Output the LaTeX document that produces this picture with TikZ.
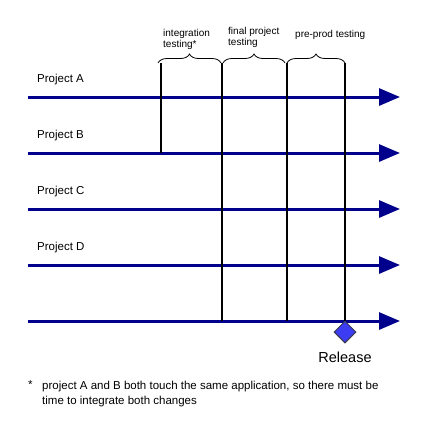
\documentclass[tikz,border=0pt]{standalone}
\usepackage{fontspec}
\setmainfont{Liberation Sans}
\usetikzlibrary{arrows.meta,positioning,calc,shapes.geometric,decorations.pathreplacing}
\definecolor{navy}{HTML}{00008C}
\definecolor{relblue}{HTML}{3C3CF2}
\definecolor{relrim}{HTML}{3A3A4C}
\tikzset{
    every picture/.style={line join=miter},
    track/.style={draw=navy,line width=3pt,-{Triangle[length=21pt,width=17pt]}},
    gate/.style={draw=black,line width=2pt},
    phasebrace/.style={draw=black,line width=0.8pt,decorate,
      decoration={brace,amplitude=9pt}},
    projlabel/.style={anchor=west,inner sep=0pt,font=\fontsize{11.5}{14}\selectfont},
    phaselabel/.style={anchor=north west,inner sep=0pt,align=left,
      font=\fontsize{10}{11}\selectfont},
    notetext/.style={anchor=north west,inner sep=0pt,align=left,
      font=\fontsize{11.5}{15}\selectfont},
    releasemark/.style={diamond,draw=relrim,fill=relblue,line width=1pt,
      minimum width=22pt,minimum height=22pt,inner sep=0pt}
}
\begin{document}
\begin{tikzpicture}[x=1pt,y=-1pt]
  \useasboundingbox (0,0) rectangle (424,440);
  % project tracks and their labels
  \foreach \i/\y/\name in {1/97/Project A,2/153/Project B,3/209/Project C,4/265/Project D}{
    \coordinate (s\i) at (28,\y);
    \coordinate (e\i) at (400,\y);
    \node[projlabel] (p\i) at (37,\y-17) {\name};
  }
  \coordinate (s5) at (28,321);
  \coordinate (e5) at (400,321);
  \foreach \i in {1,...,5}
    \draw[track] (s\i) -- (e\i);
  % phase boundaries
  \coordinate (g1) at (161,63);
  \coordinate (g2) at (222,63);
  \coordinate (g3) at (287,63);
  \coordinate (g4) at (345,63);
  \draw[gate] (g1) -- (g1 |- s2);
  \foreach \i in {2,3,4}
    \draw[gate] (g\i) -- (g\i |- s5);
  % braces over the phases
  \coordinate (b1l) at (158,63);
  \coordinate (b1r) at (221,63);
  \coordinate (b2l) at (223,63);
  \coordinate (b2r) at (285,63);
  \coordinate (b3l) at (287,63);
  \coordinate (b3r) at (345,63);
  \foreach \i in {1,2,3}
    \draw[phasebrace] (b\i l) -- (b\i r);
  \node[phaselabel] (ph1) at (163,29) {integration\\testing*};
  \node[phaselabel] (ph2) at (228,27) {final project\\testing};
  \node[phaselabel] (ph3) at (295,30) {pre-prod testing};
  % release point
  \node[releasemark] (rel) at (345,332) {};
  \node[below=8pt of rel,inner sep=0pt,font=\fontsize{14.5}{16}\selectfont] (reltext) {Release};
  % footnote
  \node[anchor=north west,inner sep=0pt,font=\fontsize{11.5}{14}\selectfont] (star) at (28,380) {*};
  \node[notetext] (note) at (42,381)
    {project A and B both touch the same application, so there must be\\
     time to integrate both changes};
\end{tikzpicture}
\end{document}
